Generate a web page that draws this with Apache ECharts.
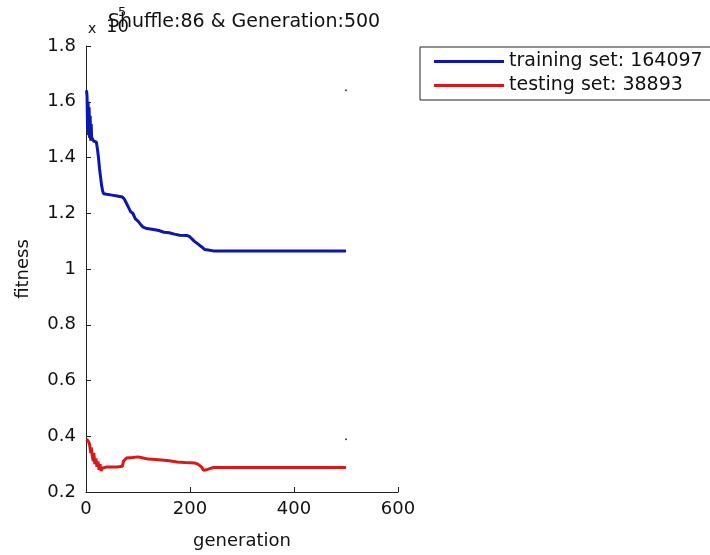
<!DOCTYPE html>
<html>
<head>
<meta charset="utf-8">
<script src="https://cdn.jsdelivr.net/npm/echarts@6/dist/echarts.min.js"></script>
<style>
  html, body { margin: 0; padding: 0; background: #ffffff; }
  #chart { width: 710px; height: 555px; }
</style>
</head>
<body>
<div id="chart"></div>
<script>
// ---- data (fitness values; the y axis shows them in units of 10^5) ----
const chartTitle = 'Shuffle:86 & Generation:500';
const seriesNames = ['training set: 164097', 'testing set: 38893'];
const xTickValues = [0, 200, 400, 600];
const yTickLabels = ['0.2', '0.4', '0.6', '0.8', '1', '1.2', '1.4', '1.6', '1.8'];

const trainGen = [1, 2, 3, 4, 5, 6, 7, 8, 9, 10, 11, 12, 14, 17, 20, 22, 24, 26, 28, 30, 32, 34, 40, 50, 60, 70, 74, 78, 82, 86, 90, 95, 100, 105, 110, 117, 130, 140, 150, 160, 170, 180, 195, 200, 203, 208, 215, 222, 228, 235, 245, 300, 400, 500];
const trainFit = [164097, 162000, 150000, 160000, 148000, 158000, 147000, 155000, 146000, 152000, 146000, 147000, 146000, 146000, 145500, 143000, 140000, 136000, 133000, 130000, 128000, 127000, 126800, 126500, 126200, 125800, 125000, 123500, 122000, 120500, 120000, 118000, 117200, 116000, 115000, 114500, 114200, 113800, 113200, 113000, 112500, 112100, 112000, 111500, 112000, 110000, 109000, 108000, 107000, 106800, 106500, 106500, 106500, 106500];

const testGen = [1, 3, 5, 7, 9, 10, 12, 14, 15, 17, 19, 21, 23, 25, 27, 29, 31, 33, 40, 50, 60, 70, 72, 78, 90, 100, 110, 120, 140, 160, 175, 190, 210, 215, 222, 226, 232, 238, 245, 300, 400, 500];
const testFit = [38893, 39500, 38000, 37000, 34000, 36000, 33000, 31000, 34000, 30000, 32000, 29000, 31000, 28000, 30000, 27500, 28500, 28000, 29000, 29000, 29000, 29200, 31000, 32200, 32400, 32600, 32200, 31800, 31600, 31200, 30800, 30600, 30400, 30000, 29000, 27800, 28000, 28400, 28800, 28800, 28800, 28800];

// initial fitness values marked with a dot at the last generation
const markerGen = [500, 500];
const markerFit = [164097, 38893];

const trainData = trainGen.map((g, i) => [g, trainFit[i]]);
const testData = testGen.map((g, i) => [g, testFit[i]]);
const markerData = markerGen.map((g, i) => [g, markerFit[i]]);

const FONT = 'DejaVu Sans';
const chart = echarts.init(document.getElementById('chart'), null, { renderer: 'canvas' });

chart.setOption({
  backgroundColor: '#ffffff',
  animation: false,
  title: {
    text: chartTitle,
    left: 239,
    top: 8,
    textAlign: 'center',
    textStyle: { fontFamily: FONT, fontSize: 19, fontWeight: 'normal', color: '#111' }
  },
  legend: {
    data: seriesNames,
    orient: 'vertical',
    left: 420,
    top: 47,
    padding: [5, 10, 5, 14],
    itemGap: 5,
    icon: 'rect',
    itemWidth: 70,
    itemHeight: 3,
    borderColor: '#222',
    borderWidth: 1,
    backgroundColor: '#fff',
    textStyle: { fontFamily: FONT, fontSize: 19, color: '#111' }
  },
  graphic: [
    { type: 'text', left: 88, top: 22, style: { text: 'x', font: '14px "DejaVu Sans"', fill: '#111' } },
    { type: 'text', left: 106, top: 18, style: { text: '10', font: '18px "DejaVu Sans"', fill: '#111' } },
    { type: 'text', left: 118, top: 6, style: { text: '5', font: '13px "DejaVu Sans"', fill: '#111' } }
  ],
  grid: { left: 86, right: 312, top: 46, bottom: 63, containLabel: false },
  xAxis: {
    type: 'value',
    min: 0,
    max: 600,
    interval: 200,
    name: 'generation',
    nameLocation: 'middle',
    nameGap: 40,
    nameTextStyle: { fontFamily: FONT, fontSize: 18, color: '#111' },
    axisLine: { show: true, onZero: false, lineStyle: { color: '#222', width: 1 } },
    axisTick: { show: true, inside: true, length: 5, lineStyle: { color: '#222' } },
    axisLabel: {
      fontFamily: FONT, fontSize: 18, color: '#111', margin: 8,
      formatter: v => (xTickValues.indexOf(v) >= 0 ? String(v) : '')
    },
    splitLine: { show: false }
  },
  yAxis: {
    type: 'value',
    min: 20000,
    max: 180000,
    interval: 20000,
    name: 'fitness',
    nameLocation: 'middle',
    nameGap: 54,
    nameRotate: 90,
    nameTextStyle: { fontFamily: FONT, fontSize: 18, color: '#111' },
    axisLine: { show: true, onZero: false, lineStyle: { color: '#222', width: 1 } },
    axisTick: { show: true, inside: true, length: 5, lineStyle: { color: '#222' } },
    axisLabel: {
      fontFamily: FONT, fontSize: 18, color: '#111', margin: 10,
      formatter: v => yTickLabels[Math.round((v - 20000) / 20000)]
    },
    splitLine: { show: false }
  },
  series: [
    {
      name: seriesNames[0],
      type: 'line',
      data: trainData,
      symbol: 'none',
      showSymbol: false,
      lineStyle: { color: '#0c16b0', width: 3 },
      itemStyle: { color: '#0c16b0' }
    },
    {
      name: seriesNames[1],
      type: 'line',
      data: testData,
      symbol: 'none',
      showSymbol: false,
      lineStyle: { color: '#d91818', width: 3 },
      itemStyle: { color: '#d91818' }
    },
    {
      name: 'initial',
      type: 'scatter',
      data: markerData,
      symbol: 'circle',
      symbolSize: 2,
      itemStyle: { color: '#111' },
      silent: true
    }
  ]
});
</script>
</body>
</html>
